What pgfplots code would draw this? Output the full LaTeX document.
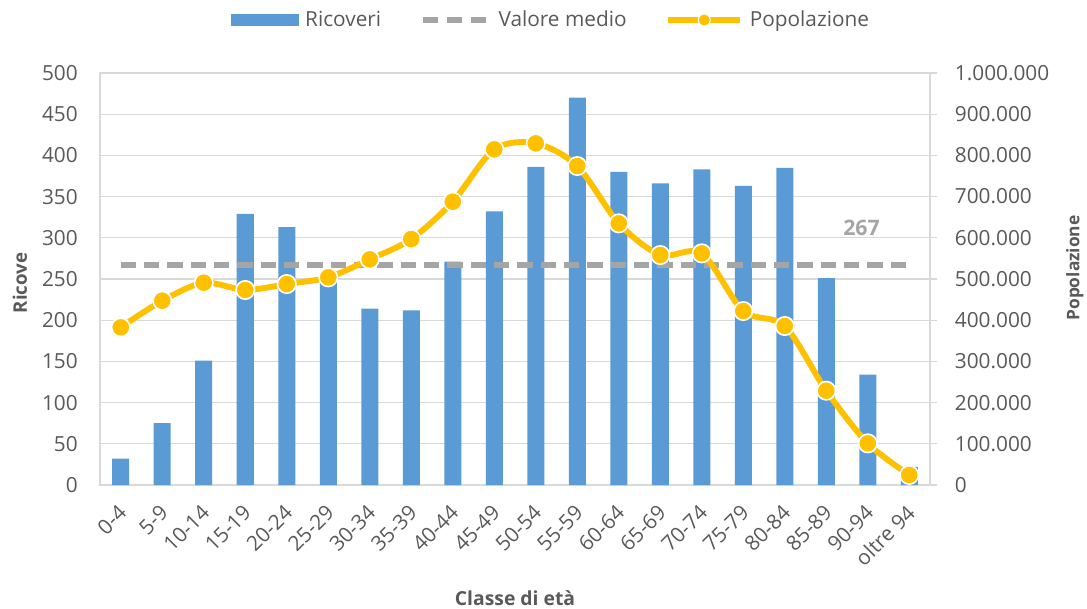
\documentclass[border=0pt]{standalone}
\usepackage{pgfplots}
\usepackage{pgfplotstable}
\pgfplotsset{compat=1.18}
\usepackage{fontspec}
\setmainfont{Open Sans}
\definecolor{barblue}{HTML}{5B9BD5}
\definecolor{avggrey}{HTML}{A5A5A5}
\definecolor{popyellow}{HTML}{FFC000}
\definecolor{txtgrey}{HTML}{595959}
\definecolor{gridgrey}{HTML}{D9D9D9}

\pgfplotstableread{
x ric pop
0 32 382700
1 75 447300
2 151 491000
3 329 473300
4 313 487800
5 250 504000
6 214 547700
7 212 597000
8 271 687600
9 332 814700
10 386 829300
11 470 774200
12 380 635100
13 366 558200
14 383 562300
15 363 422300
16 385 385900
17 251 228900
18 134 101100
19 22 24300
}\data

\pgfplotstableread{
x avg
0 267
19 267
}\avgdata

\begin{document}
\begin{tikzpicture}
\useasboundingbox (-75pt,-92.25pt) rectangle (740.25pt,363.75pt);
\begin{axis}[
  at={(0,0)}, anchor=south west,
  scale only axis, width=622.5pt, height=309pt,
  xmin=-0.5, xmax=19.5, ymin=0, ymax=500,
  xtick={0,...,19},
  xticklabels={0-4,5-9,10-14,15-19,20-24,25-29,30-34,35-39,40-44,45-49,50-54,55-59,60-64,65-69,70-74,75-79,80-84,85-89,90-94,oltre 94},
  ytick={0,50,...,500},
  ymajorgrids,
  grid style={gridgrey, line width=0.9pt},
  axis line style={gridgrey, line width=0.9pt},
  major tick length=0pt,
  /pgf/number format/assume math mode=true,
  tick label style={font=\fontsize{15.6}{18}\selectfont, text=txtgrey, inner sep=0pt},
  yticklabel style={xshift=-16.5pt},
  xticklabel style={xshift=1.5pt, yshift=-18pt, rotate=45, anchor=east},
  clip=false,
]
\addplot[ybar, bar width=12.75pt, fill=barblue, draw=none] table[x=x, y=ric] {\data};
\addplot[avggrey, line width=4pt, dash pattern=on 11.5pt off 6pt] table[x=x, y=avg] {\avgdata};
\node[font=\bfseries\fontsize{16}{18}\selectfont, text=avggrey] at (axis cs:17.85,312) {267};
\node[font=\bfseries\fontsize{14.5}{16}\selectfont, text=txtgrey] at (axis cs:9.5,-137) {Classe di età};
\node[font=\bfseries\fontsize{14}{16}\selectfont, text=txtgrey, rotate=90, anchor=west] at (axis cs:-2.43,203) {Ricove};
\end{axis}
\begin{axis}[
  at={(0,0)}, anchor=south west,
  scale only axis, width=622.5pt, height=309pt,
  xmin=-0.5, xmax=19.5, ymin=0, ymax=1000000,
  axis x line=none,
  axis y line*=right,
  axis line style={gridgrey, line width=0.9pt, -},
  ytick={0,100000,...,1000000},
  scaled y ticks=false,
  major tick length=5.5pt,
  tick align=outside,
  tick style={gridgrey, line width=0.9pt},
  /pgf/number format/assume math mode=true,
  /pgf/number format/fixed,
  /pgf/number format/precision=0,
  /pgf/number format/1000 sep={.},
  tick label style={font=\fontsize{15.6}{18}\selectfont, text=txtgrey, inner sep=0pt},
  yticklabel style={xshift=13pt},
  clip=false,
  legend style={at={(0.544,1.1286)}, anchor=center, draw=none, fill=none,
    font=\fontsize{15.6}{18}\selectfont, text=txtgrey,
    legend columns=3,
    /tikz/every odd column/.append style={column sep=3pt},
    /tikz/every even column/.append style={column sep=27pt},
    legend cell align=left},
]
\addlegendimage{legend image code/.code={\fill[barblue] (0pt,-4.1pt) rectangle (50pt,4.1pt);}}
\addlegendentry{Ricoveri}
\addlegendimage{legend image code/.code={\draw[avggrey, line width=4pt, dash pattern=on 11.5pt off 6.5pt] (0pt,0pt) -- (50pt,0pt);}}
\addlegendentry{Valore medio}
\addplot[popyellow, line width=4.4pt, smooth, mark=*, mark size=6.9pt,
  mark options={fill=popyellow, draw=white, line width=1.2pt},
  legend image code/.code={\draw[popyellow, line width=4.4pt] (0pt,0pt) -- (54pt,0pt); \fill[popyellow, draw=white, line width=0.8pt] (27pt,0pt) circle (4.5pt);}]
  table[x=x, y=pop] {\data};
\addlegendentry{Popolazione}
\node[font=\bfseries\fontsize{13}{16}\selectfont, text=txtgrey, rotate=90] at (axis cs:22.99,526700) {Popolazione};
\end{axis}
\end{tikzpicture}
\end{document}
